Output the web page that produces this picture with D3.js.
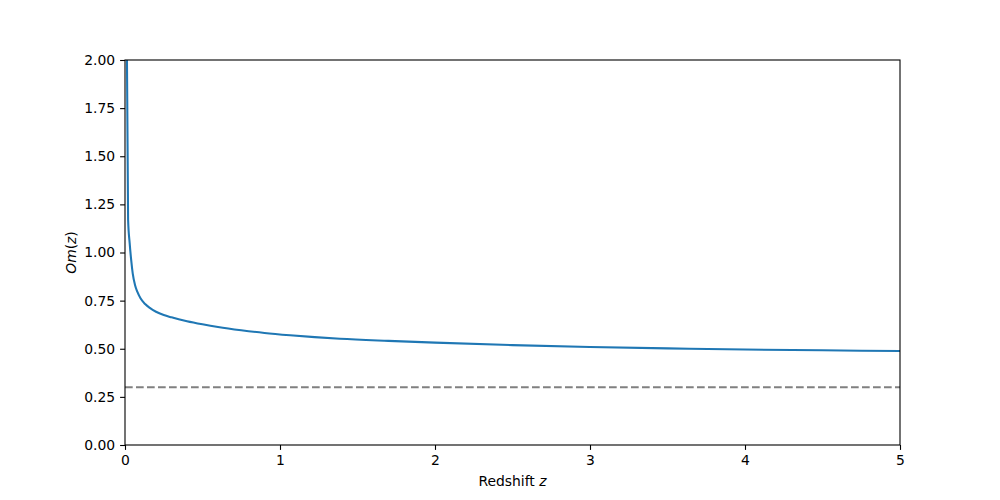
<!DOCTYPE html>
<html>
<head>
<meta charset="utf-8">
<script src="https://cdn.jsdelivr.net/npm/d3@7"></script>
<style>
  body { margin: 0; background: #fff; }
  svg { display: block; }
  text { font-family: "DejaVu Sans", sans-serif; }
</style>
</head>
<body>
<svg id="chart" width="1000" height="500"></svg>
<script>
// Data
const redshift = [0.01, 0.02, 0.03, 0.04, 0.05, 0.065, 0.08, 0.1, 0.13, 0.16, 0.2, 0.25, 0.3, 0.4, 0.5, 0.6, 0.75, 0.9, 1.065, 1.387, 1.7, 2.0, 2.5, 3.0, 3.5, 4.0, 4.5, 5.0];
const omValues = [2.3, 1.17, 1.05, 0.96, 0.89, 0.83, 0.795, 0.762, 0.732, 0.712, 0.692, 0.675, 0.663, 0.643, 0.627, 0.613, 0.596, 0.582, 0.570, 0.552, 0.541, 0.532, 0.519, 0.509, 0.502, 0.496, 0.492, 0.488];
const referenceOm = 0.3;
const xTicks = [0, 1, 2, 3, 4, 5];
const yTicks = [0, 0.25, 0.5, 0.75, 1.0, 1.25, 1.5, 1.75, 2.0];

const svg = d3.select("#chart");
const m = { left: 125, right: 900, top: 60, bottom: 445 };

const x = d3.scaleLinear().domain([0, 5]).range([m.left, m.right]);
const y = d3.scaleLinear().domain([0, 2]).range([m.bottom, m.top]);

svg.append("defs").append("clipPath").attr("id", "clip")
  .append("rect").attr("x", m.left).attr("y", m.top)
  .attr("width", m.right - m.left).attr("height", m.bottom - m.top);

const plot = svg.append("g").attr("clip-path", "url(#clip)");

// reference line
plot.append("line")
  .attr("x1", x(0)).attr("x2", x(5))
  .attr("y1", y(referenceOm)).attr("y2", y(referenceOm))
  .attr("stroke", "#808080").attr("stroke-width", 2.08)
  .attr("stroke-dasharray", "7.7,3.3");

const data = redshift.map((z, i) => [z, omValues[i]]);
plot.append("path")
  .datum(data)
  .attr("fill", "none")
  .attr("stroke", "#1f77b4")
  .attr("stroke-width", 2.08)
  .attr("stroke-linejoin", "round")
  .attr("d", d3.line().x(d => x(d[0])).y(d => y(d[1])).curve(d3.curveMonotoneX));

// axes
const fs = "13.9px";
const xAxis = svg.append("g").attr("transform", `translate(0,${m.bottom})`)
  .call(d3.axisBottom(x).tickValues(xTicks).tickFormat(d3.format("d")).tickSizeOuter(0).tickSize(4.9).tickPadding(4.9));
const yAxis = svg.append("g").attr("transform", `translate(${m.left},0)`)
  .call(d3.axisLeft(y).tickValues(yTicks).tickFormat(d3.format(".2f")).tickSizeOuter(0).tickSize(4.9).tickPadding(4.9));
[xAxis, yAxis].forEach(a => {
  a.select(".domain").remove();
  a.selectAll(".tick line").attr("stroke", "#000").attr("stroke-width", 1.1);
  a.selectAll(".tick text").attr("fill", "#000").style("font-size", fs).style("font-family", '"DejaVu Sans", sans-serif');
});

// frame
svg.append("rect")
  .attr("x", m.left).attr("y", m.top)
  .attr("width", m.right - m.left).attr("height", m.bottom - m.top)
  .attr("fill", "none").attr("stroke", "#000").attr("stroke-width", 1.1);

// labels
const xl = svg.append("text")
  .attr("x", (m.left + m.right) / 2).attr("y", 486)
  .attr("text-anchor", "middle").style("font-size", fs);
xl.append("tspan").text("Redshift ");
xl.append("tspan").attr("font-style", "italic").text("z");

const yl = svg.append("text")
  .attr("transform", `translate(76,${(m.top + m.bottom) / 2}) rotate(-90)`)
  .attr("text-anchor", "middle").style("font-size", fs);
yl.append("tspan").attr("font-style", "italic").text("Om");
yl.append("tspan").text("(");
yl.append("tspan").attr("font-style", "italic").text("z");
yl.append("tspan").text(")");
</script>
</body>
</html>
